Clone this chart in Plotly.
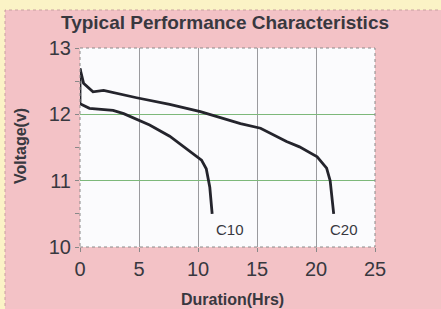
import plotly.graph_objects as go

# C20 discharge curve (hours, volts)
c20_hours = [0, 0.3, 1.1, 2.0, 4.8, 7.6, 10.2, 11.9, 13.6, 15.3, 17.5, 18.6, 20.1, 20.9, 21.2, 21.5]
c20_volts = [12.69, 12.47, 12.34, 12.36, 12.25, 12.15, 12.04, 11.95, 11.86, 11.79, 11.59, 11.51, 11.36, 11.19, 11.0, 10.5]

# C10 discharge curve (hours, volts)
c10_hours = [0, 0, 0.8, 2.8, 3.7, 4.8, 5.9, 7.6, 9.3, 10.3, 10.7, 11.0, 11.2]
c10_volts = [12.69, 12.16, 12.09, 12.06, 12.01, 11.92, 11.84, 11.67, 11.45, 11.31, 11.18, 10.9, 10.5]

curve_labels = ["C10", "C20"]
x_ticks = [0, 5, 10, 15, 20, 25]
y_ticks = [10, 11, 12, 13]

W, H = 441, 309
L, R, T, B = 80, 66, 48, 62
pw, ph = W - L - R, H - T - B

def px(xp):
    return (xp - L) / pw

def py(yp):
    return (H - B - yp) / ph

line_col = "#24242c"
text_col = "#38383f"
pink = "#f3c2c6"
yellow = "#fbf3c6"
FONT = "Liberation Sans, Arial, sans-serif"

fig = go.Figure()
fig.add_trace(go.Scatter(x=c20_hours, y=c20_volts, mode="lines",
                         line=dict(color=line_col, width=2.8), showlegend=False))
fig.add_trace(go.Scatter(x=c10_hours, y=c10_volts, mode="lines",
                         line=dict(color=line_col, width=2.8), showlegend=False))

fig.update_layout(
    width=W, height=H,
    margin=dict(l=L, r=R, t=T, b=B),
    paper_bgcolor=pink,
    plot_bgcolor="#fbfbfd",
    font=dict(family=FONT, color=text_col),
    title=dict(text="<b>Typical Performance Characteristics</b>",
               x=225 / W, xanchor="center", y=1 - 22.5 / H, yanchor="middle",
               font=dict(size=19, color=text_col)),
)

fig.update_xaxes(range=[0, 25], tickvals=x_ticks, ticktext=[str(v) for v in x_ticks],
                 showgrid=True, gridcolor="#9a9a9e", gridwidth=1,
                 ticks="outside", ticklen=4, tickcolor="#888888",
                 tickfont=dict(size=20, color=text_col), zeroline=False,
                 showline=False)
fig.update_yaxes(range=[10, 13], tickvals=y_ticks, ticktext=[str(v) for v in y_ticks],
                 showgrid=True, gridcolor="#7db87a", gridwidth=1,
                 ticks="outside", ticklen=4, tickcolor="#888888",
                 minor=dict(dtick=0.5, ticks="outside", ticklen=4, tickcolor="#888888", showgrid=False),
                 tickfont=dict(size=20, color=text_col), zeroline=False,
                 showline=False)

# yellow strips outside the pink panel
fig.add_shape(type="rect", xref="paper", yref="paper",
              x0=px(0), x1=px(W), y0=py(10), y1=py(0),
              fillcolor=yellow, line=dict(width=0), layer="below")
fig.add_shape(type="rect", xref="paper", yref="paper",
              x0=px(0), x1=px(5), y0=py(H), y1=py(0),
              fillcolor=yellow, line=dict(width=0), layer="below")
# pink panel dotted edge
fig.add_shape(type="rect", xref="paper", yref="paper",
              x0=px(5), x1=px(W + 2), y0=py(H + 2), y1=py(10),
              line=dict(color="#c8a0a0", width=1, dash="dot"), layer="below")
# dotted plot border
fig.add_shape(type="rect", xref="paper", yref="paper",
              x0=0, x1=1, y0=0, y1=1,
              line=dict(color="#8a8a8a", width=1, dash="dot"), layer="above")

# curve labels
fig.add_annotation(x=12.75, y=10.27, text=curve_labels[0], showarrow=False,
                   font=dict(size=15, color=text_col))
fig.add_annotation(x=22.4, y=10.27, text=curve_labels[1], showarrow=False,
                   font=dict(size=15, color=text_col))

# axis titles
fig.add_annotation(xref="paper", yref="paper", x=px(232), y=py(299),
                   text="<b>Duration(Hrs)</b>", showarrow=False,
                   xanchor="center", yanchor="middle",
                   font=dict(size=16, color=text_col))
fig.add_annotation(xref="paper", yref="paper", x=px(20), y=py(146),
                   text="<b>Voltage(v)</b>", showarrow=False, textangle=-90,
                   xanchor="center", yanchor="middle",
                   font=dict(size=16, color=text_col))

fig.write_html("out.html",
               config={"displayModeBar": False},
               post_script="document.body.style.margin='0';document.body.style.overflow='hidden';")
